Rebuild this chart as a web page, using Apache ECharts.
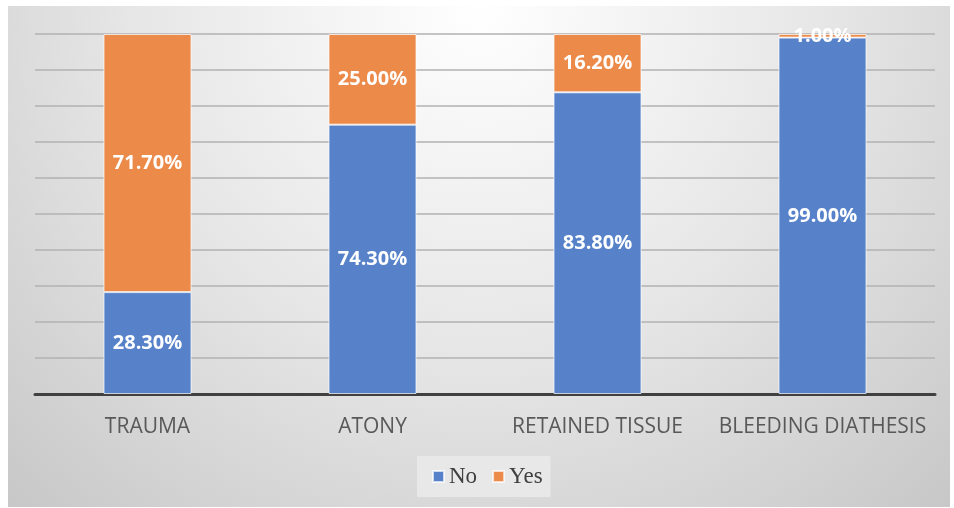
<!DOCTYPE html>
<html><head><meta charset="utf-8">
<script src="https://cdn.jsdelivr.net/npm/echarts@6/dist/echarts.min.js"></script>
<style>html,body{margin:0;padding:0;background:#fff}#c{width:954px;height:508px}</style>
</head><body><div id="c"></div>
<script>
const categories = ['TRAUMA', 'ATONY', 'RETAINED TISSUE', 'BLEEDING DIATHESIS'];
const noValues = [28.3, 74.3, 83.8, 99.0];
const yesValues = [71.7, 25.0, 16.2, 1.0];
const seriesNames = ['No', 'Yes'];

// 100% stacked: normalise each category to its total
const totals = categories.map((c, i) => noValues[i] + yesValues[i]);
const noShare = noValues.map((v, i) => v / totals[i] * 100);
const yesShare = yesValues.map((v, i) => v / totals[i] * 100);

const chart = echarts.init(document.getElementById('c'));
const labelStyle = (raw) => ({
  show: true, position: 'inside', color: '#fff', fontFamily: 'Open Sans', fontWeight: 'bold', fontSize: 20,
  formatter: p => raw[p.dataIndex].toFixed(2) + '%'
});
chart.setOption({
  animation: false,
  graphic: [{
    type: 'rect', z: -10, silent: true,
    shape: { x: 8, y: 6, width: 942, height: 501 },
    style: { fill: new echarts.graphic.RadialGradient(0.5, 0.0, 1.4, [
      { offset: 0, color: '#ffffff' }, { offset: 0.5, color: '#e6e6e6' }, { offset: 1, color: '#c6c6c6' }]) }
  }],
  grid: { left: 35, right: 19, top: 34, bottom: 114 },
  legend: {
    data: seriesNames, left: 417, top: 456, icon: 'rect', itemWidth: 11, itemHeight: 11, itemGap: 15,
    backgroundColor: 'rgba(235,235,235,0.8)', padding: [9, 8, 9, 15],
    textStyle: { fontFamily: 'Liberation Serif', fontSize: 23, color: '#404040' }
  },
  xAxis: {
    type: 'category', data: categories,
    axisLine: { lineStyle: { color: '#404040', width: 3 } },
    axisTick: { show: false },
    axisLabel: { interval: 0, color: '#595959', fontFamily: 'Open Sans', fontSize: 21, margin: 23 }
  },
  yAxis: {
    type: 'value', min: 0, max: 100, interval: 10,
    axisLabel: { show: false }, axisLine: { show: false }, axisTick: { show: false },
    splitLine: { lineStyle: { color: '#b2b2b2', width: 1.5 } }
  },
  series: [
    { name: seriesNames[0], type: 'bar', stack: 'a', data: noShare, barWidth: 88,
      itemStyle: { color: '#5782ca', borderColor: 'rgba(255,255,255,0.7)', borderWidth: 1 },
      label: labelStyle(noValues) },
    { name: seriesNames[1], type: 'bar', stack: 'a', data: yesShare, barWidth: 88,
      itemStyle: { color: '#ec8a4a', borderColor: 'rgba(255,255,255,0.7)', borderWidth: 1 },
      label: labelStyle(yesValues) }
  ]
});
</script></body></html>
